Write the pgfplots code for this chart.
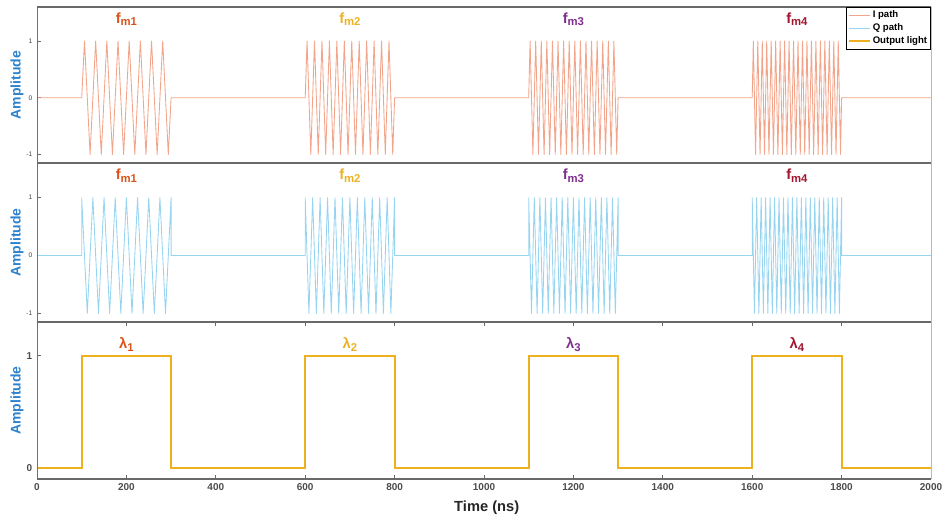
\documentclass[border=0pt]{standalone}
\usepackage{pgfplots}
\pgfplotsset{compat=1.18}
\usepackage{fontspec}
\setmainfont{Liberation Sans}
\definecolor{ipath}{RGB}{242,165,138}
\definecolor{qpath}{RGB}{150,212,240}
\definecolor{olight}{RGB}{237,177,32}
\definecolor{ca}{RGB}{217,83,25}
\definecolor{cb}{RGB}{237,177,32}
\definecolor{cc}{RGB}{126,47,142}
\definecolor{cd}{RGB}{162,20,47}
\definecolor{axblue}{RGB}{45,130,205}
\definecolor{framec}{RGB}{105,105,105}
\newcommand{\fm}[1]{f\raisebox{-0.3ex}{\fontsize{8.5}{9}\selectfont m#1}}
\newcommand{\lam}[1]{λ\raisebox{-0.3ex}{\fontsize{8.5}{9}\selectfont #1}}
\pgfplotsset{
  panel/.style={
    scale only axis, width=670.5pt, xmin=0, xmax=2000, clip=false,
    axis line style={draw=none},
    /pgf/number format/assume math mode=true,
    /pgf/number format/1000 sep={},
    tick align=inside, ytick pos=left,
    major tick length=3pt,
    tick style={framec, line width=0.5pt},
    every axis y label/.style={at={(axis description cs:-0.0224,0.5)}, rotate=90, anchor=center,
      font=\bfseries\fontsize{10.5}{12}\selectfont, text=axblue},
    ylabel={Amplitude},
  },
  sig/.style={line width=0.65pt, line join=round},
}
\begin{document}
\begin{tikzpicture}
\path[use as bounding box] (-27.75pt,5.25pt) rectangle (680.25pt,-384pt);
% ---------------- top: I path
\begin{axis}[panel, name=top, at={(0,0)}, anchor=north west, height=117pt,
  ymin=-1.15, ymax=1.6, ytick={-1,0,1}, xtick=\empty,
  yticklabel style={font=\fontsize{5}{6}\selectfont, text=black!75},
  legend style={at={(1,1)}, anchor=north east, draw=black, fill=white,
    font=\bfseries\fontsize{7.2}{8}\selectfont, inner sep=1.5pt, row sep=0.6pt,
    nodes={inner sep=1.2pt}},
  legend cell align=left,
  legend image code/.code={\draw[#1] (0cm,0cm) -- (0.55cm,0cm);},
]
\addplot[sig, ipath, forget plot] coordinates {
(0,0)(100,0)
(106.25,1)(118.75,-1)(131.25,1)(143.75,-1)(156.25,1)(168.75,-1)(181.25,1)(193.75,-1)(206.25,1)(218.75,-1)(231.25,1)(243.75,-1)(256.25,1)(268.75,-1)(281.25,1)(293.75,-1)
(300,0)(600,0)
(604.17,1)(612.5,-1)(620.83,1)(629.17,-1)(637.5,1)(645.83,-1)(654.17,1)(662.5,-1)(670.83,1)(679.17,-1)(687.5,1)(695.83,-1)(704.17,1)(712.5,-1)(720.83,1)(729.17,-1)(737.5,1)(745.83,-1)(754.17,1)(762.5,-1)(770.83,1)(779.17,-1)(787.5,1)(795.83,-1)
(800,0)(1100,0)
(1103.13,1)(1109.38,-1)(1115.63,1)(1121.88,-1)(1128.13,1)(1134.38,-1)(1140.63,1)(1146.88,-1)(1153.13,1)(1159.38,-1)(1165.63,1)(1171.88,-1)(1178.13,1)(1184.38,-1)(1190.63,1)(1196.88,-1)(1203.13,1)(1209.38,-1)(1215.63,1)(1221.88,-1)(1228.13,1)(1234.38,-1)(1240.63,1)(1246.88,-1)(1253.13,1)(1259.38,-1)(1265.63,1)(1271.88,-1)(1278.13,1)(1284.38,-1)(1290.63,1)(1296.88,-1)
(1300,0)(1600,0)
(1602.5,1)(1607.5,-1)(1612.5,1)(1617.5,-1)(1622.5,1)(1627.5,-1)(1632.5,1)(1637.5,-1)(1642.5,1)(1647.5,-1)(1652.5,1)(1657.5,-1)(1662.5,1)(1667.5,-1)(1672.5,1)(1677.5,-1)(1682.5,1)(1687.5,-1)(1692.5,1)(1697.5,-1)(1702.5,1)(1707.5,-1)(1712.5,1)(1717.5,-1)(1722.5,1)(1727.5,-1)(1732.5,1)(1737.5,-1)(1742.5,1)(1747.5,-1)(1752.5,1)(1757.5,-1)(1762.5,1)(1767.5,-1)(1772.5,1)(1777.5,-1)(1782.5,1)(1787.5,-1)(1792.5,1)(1797.5,-1)
(1800,0)(2000,0)
};
\addlegendimage{line width=0.9pt, draw=ipath}
\addlegendentry{I path}
\addlegendimage{line width=0.9pt, draw=qpath}
\addlegendentry{Q path}
\addlegendimage{line width=1.3pt, draw=olight}
\addlegendentry{Output light}
\begin{scope}[font=\bfseries\fontsize{11}{12}\selectfont]
\node[text=ca] at (axis cs:200,1.38) {\fm{1}};
\node[text=cb] at (axis cs:700,1.38) {\fm{2}};
\node[text=cc] at (axis cs:1200,1.38) {\fm{3}};
\node[text=cd] at (axis cs:1700,1.38) {\fm{4}};
\end{scope}
\draw[axblue, line width=0.6pt] (rel axis cs:0,0) -- (rel axis cs:0,1);
\draw[ipath, line width=0.6pt] (rel axis cs:1,0) -- (rel axis cs:1,1);
\draw[framec, line width=1.5pt] (rel axis cs:0,1) -- (rel axis cs:1,1);
\end{axis}
% ---------------- middle: Q path
\begin{axis}[panel, name=mid, at={(top.south west)}, anchor=north west, height=119.25pt,
  ymin=-1.15, ymax=1.6, ytick={-1,0,1}, xtick=\empty,
  yticklabel style={font=\fontsize{5}{6}\selectfont, text=black!75},
]
\addplot[sig, qpath] coordinates {
(0,0)(100,0)(100,1)(112.5,-1)(125,1)(137.5,-1)(150,1)(162.5,-1)(175,1)(187.5,-1)(200,1)(212.5,-1)(225,1)(237.5,-1)(250,1)(262.5,-1)(275,1)(287.5,-1)(300,1)(300,0)(600,0)
(600,1)(608.33,-1)(616.67,1)(625,-1)(633.33,1)(641.67,-1)(650,1)(658.33,-1)(666.67,1)(675,-1)(683.33,1)(691.67,-1)(700,1)(708.33,-1)(716.67,1)(725,-1)(733.33,1)(741.67,-1)(750,1)(758.33,-1)(766.67,1)(775,-1)(783.33,1)(791.67,-1)(800,1)(800,0)(1100,0)
(1100,1)(1106.25,-1)(1112.5,1)(1118.75,-1)(1125,1)(1131.25,-1)(1137.5,1)(1143.75,-1)(1150,1)(1156.25,-1)(1162.5,1)(1168.75,-1)(1175,1)(1181.25,-1)(1187.5,1)(1193.75,-1)(1200,1)(1206.25,-1)(1212.5,1)(1218.75,-1)(1225,1)(1231.25,-1)(1237.5,1)(1243.75,-1)(1250,1)(1256.25,-1)(1262.5,1)(1268.75,-1)(1275,1)(1281.25,-1)(1287.5,1)(1293.75,-1)(1300,1)(1300,0)(1600,0)
(1600,1)(1605,-1)(1610,1)(1615,-1)(1620,1)(1625,-1)(1630,1)(1635,-1)(1640,1)(1645,-1)(1650,1)(1655,-1)(1660,1)(1665,-1)(1670,1)(1675,-1)(1680,1)(1685,-1)(1690,1)(1695,-1)(1700,1)(1705,-1)(1710,1)(1715,-1)(1720,1)(1725,-1)(1730,1)(1735,-1)(1740,1)(1745,-1)(1750,1)(1755,-1)(1760,1)(1765,-1)(1770,1)(1775,-1)(1780,1)(1785,-1)(1790,1)(1795,-1)(1800,1)(1800,0)(2000,0)
};
\begin{scope}[font=\bfseries\fontsize{11}{12}\selectfont]
\node[text=ca] at (axis cs:200,1.38) {\fm{1}};
\node[text=cb] at (axis cs:700,1.38) {\fm{2}};
\node[text=cc] at (axis cs:1200,1.38) {\fm{3}};
\node[text=cd] at (axis cs:1700,1.38) {\fm{4}};
\end{scope}
\draw[axblue, line width=0.6pt] (rel axis cs:0,0) -- (rel axis cs:0,1);
\draw[ipath, line width=0.6pt] (rel axis cs:1,0) -- (rel axis cs:1,1);
\draw[framec, line width=1.5pt] (rel axis cs:0,1) -- (rel axis cs:1,1);
\end{axis}
% ---------------- bottom: output light
\begin{axis}[panel, name=bot, at={(mid.south west)}, anchor=north west, height=117.75pt,
  ymin=-0.1, ymax=1.3, ytick={0,1}, xtick={0,200,...,2000},
  xtick pos=both,
  yticklabel style={font=\bfseries\fontsize{7.5}{8}\selectfont, text=black!70},
  xticklabel style={font=\bfseries\fontsize{7.5}{8}\selectfont, text=black!70},
  xlabel={Time (ns)},
  every axis x label/.style={at={(axis description cs:0.503,0)}, anchor=center, yshift=-21.75pt,
    font=\bfseries\fontsize{11}{12}\selectfont, text=black!85},
]
\addplot[line width=1.4pt, olight, line join=miter] coordinates {
(0,0)(100,0)(100,1)(300,1)(300,0)(600,0)(600,1)(800,1)(800,0)(1100,0)(1100,1)(1300,1)(1300,0)(1600,0)(1600,1)(1800,1)(1800,0)(2000,0)
};
\begin{scope}[font=\bfseries\fontsize{11}{12}\selectfont]
\node[text=ca] at (axis cs:200,1.1) {\lam{1}};
\node[text=cb] at (axis cs:700,1.1) {\lam{2}};
\node[text=cc] at (axis cs:1200,1.1) {\lam{3}};
\node[text=cd] at (axis cs:1700,1.1) {\lam{4}};
\end{scope}
\draw[axblue, line width=0.6pt] (rel axis cs:0,0) -- (rel axis cs:0,1);
\draw[ipath, line width=0.6pt] (rel axis cs:1,0) -- (rel axis cs:1,1);
\draw[framec, line width=1.5pt] (rel axis cs:0,1) -- (rel axis cs:1,1);
\draw[framec, line width=1.2pt] (rel axis cs:0,0) -- (rel axis cs:1,0);
\end{axis}
\end{tikzpicture}
\end{document}
